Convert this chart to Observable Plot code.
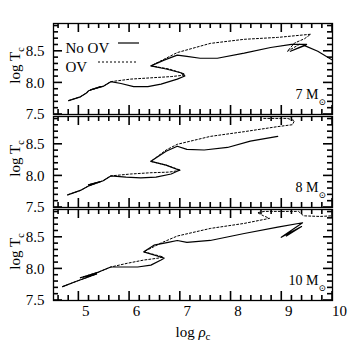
<!DOCTYPE html>
<html><head><meta charset="utf-8">
<script src="https://cdn.jsdelivr.net/npm/d3@7"></script>
<script src="https://cdn.jsdelivr.net/npm/@observablehq/plot@0.6"></script>
<style>body{margin:0;background:#fff} #chart{width:352px;height:352px}</style>
</head><body><div id="chart"></div>
<script>
// ---------- data (log rho_c , log T_c) ----------
const panelKeys = ["7", "8", "10"];
const massLabels = ["7 M", "8 M", "10 M"];
const legendNames = ["No OV", "OV"];
const xTicks = [5, 6, 7, 8, 9, 10];
const yTicks = [7.5, 8.0, 8.5];

// 7 Msun
const rho7NoOV = [4.80,5.03,5.15,5.19,5.43,5.23,5.49,5.63,5.83,6.08,6.36,6.62,6.94,7.09,7.01,6.72,6.42,6.68,6.94,7.13,7.39,7.73,8.26,8.78,9.19,9.49,9.17,9.45,9.71,10.04];
const T7NoOV   = [7.72,7.78,7.84,7.875,7.94,7.89,7.95,8.02,7.99,7.94,7.94,7.98,8.06,8.11,8.16,8.22,8.27,8.36,8.44,8.42,8.39,8.39,8.47,8.56,8.61,8.61,8.50,8.59,8.50,8.34];
const rho7OV   = [4.80,5.03,5.15,5.19,5.43,5.23,5.49,5.63,6.02,6.42,6.82,7.05,7.09,6.78,6.42,6.94,7.59,8.26,8.92,9.57,9.45,9.25,9.11,9.37];
const T7OV     = [7.72,7.78,7.84,7.875,7.94,7.89,7.95,8.02,8.06,8.08,8.10,8.12,8.14,8.22,8.27,8.48,8.625,8.69,8.72,8.77,8.70,8.63,8.50,8.62];
// 8 Msun
const rho8NoOV = [4.78,5.03,5.19,5.43,5.19,5.47,5.63,5.93,6.22,6.52,6.82,6.98,6.72,6.42,6.72,6.94,7.13,7.47,7.93,8.38,8.92];
const T8NoOV   = [7.70,7.77,7.84,7.91,7.86,7.92,8.00,7.98,7.97,7.98,8.03,8.09,8.17,8.23,8.39,8.47,8.42,8.41,8.45,8.55,8.625];
const rho8OV   = [4.78,5.03,5.19,5.43,5.19,5.47,5.63,6.02,6.42,6.78,7.01,6.72,6.42,6.72,6.94,7.59,8.26,8.92,9.21,9.25,9.11,8.64];
const T8OV     = [7.70,7.77,7.84,7.91,7.86,7.92,8.00,8.03,8.05,8.06,8.09,8.17,8.23,8.41,8.50,8.625,8.70,8.78,8.81,8.875,8.91,8.91];
// 10 Msun
const rho10NoOV = [4.68,4.94,5.35,5.03,5.39,5.63,5.89,6.16,6.42,6.62,6.68,6.56,6.28,6.48,6.76,6.94,7.13,7.59,8.26,8.92,9.41,8.99,9.39,9.09];
const T10NoOV   = [7.72,7.80,7.92,7.86,7.95,8.03,8.03,8.03,8.06,8.14,8.17,8.20,8.27,8.375,8.42,8.45,8.42,8.45,8.56,8.66,8.73,8.50,8.67,8.52];
const rho10OV   = [4.68,4.94,5.35,5.03,5.39,5.63,5.96,6.28,6.56,6.66,6.28,6.62,6.94,7.59,8.26,8.76,8.64,8.52,8.66,8.99,9.33,9.43,9.75,10.0];
const T10OV     = [7.72,7.80,7.92,7.86,7.95,8.03,8.09,8.14,8.17,8.19,8.27,8.41,8.52,8.64,8.72,8.80,8.84,8.89,8.91,8.91,8.91,8.84,8.83,8.84];

// ---------- build table ----------
const rows = [];
function addCurve(panel, model, rho, T) { rho.forEach((r, i) => rows.push({panel, model, rho: r, T: T[i]})); }
addCurve("7", "No OV", rho7NoOV, T7NoOV);   addCurve("7", "OV", rho7OV, T7OV);
addCurve("8", "No OV", rho8NoOV, T8NoOV);   addCurve("8", "OV", rho8OV, T8OV);
addCurve("10", "No OV", rho10NoOV, T10NoOV); addCurve("10", "OV", rho10OV, T10OV);
const massRows = panelKeys.map((p, i) => ({panel: p, label: massLabels[i]}));

const minorX = d3.range(46, 100, 2).map(v => v / 10).filter(v => !xTicks.includes(v));
const minorY = d3.range(76, 90, 1).map(v => v / 10).filter(v => !yTicks.includes(v));

const fontFamily = "'Liberation Serif', 'DejaVu Serif', serif";
const W = 352, H = 352;
const M = {top: 22, right: 20, bottom: 51, left: 53};
const xDomain = [4.5, 10];
const yDomain = [7.5, 8.94];

const chart = Plot.plot({
  width: W, height: H,
  marginTop: M.top, marginRight: M.right, marginBottom: M.bottom, marginLeft: M.left,
  style: {fontFamily, fontSize: "15px", color: "black", background: "white"},
  x: {domain: xDomain},
  y: {domain: yDomain},
  fy: {domain: panelKeys, paddingInner: 0.026, paddingOuter: 0, axis: null, label: null},
  marks: [
    Plot.line(rows.filter(d => d.model === "OV"), {x: "rho", y: "T", fy: "panel", stroke: "black", strokeWidth: 1, strokeDasharray: "2,2", clip: true}),
    Plot.line(rows.filter(d => d.model === "No OV"), {x: "rho", y: "T", fy: "panel", stroke: "black", strokeWidth: 1.2, clip: true}),
    Plot.frame({strokeWidth: 1.3}),
    Plot.axisX({anchor: "bottom", ticks: xTicks, tickSize: 0, tickPadding: 5, dx: 7, tickFormat: d => String(d), label: null, fontSize: 15}),
    Plot.axisY({anchor: "left", ticks: yTicks, tickSize: 0, tickPadding: 9, tickFormat: d => d.toFixed(1), label: null, facetAnchor: null, fontSize: 15}),
    Plot.text(massRows, {fy: "panel", text: "label", frameAnchor: "bottom-right", textAnchor: "end", dx: -14, dy: -16, fontSize: 14}),
    Plot.text(massRows, {fy: "panel", text: () => "\u2299", frameAnchor: "bottom-right", textAnchor: "start", dx: -14, dy: -10, fontSize: 9}),
    Plot.text(massRows.filter(d => d.panel === "7"), {fy: "panel", text: () => legendNames[0], frameAnchor: "top-left", textAnchor: "start", dx: 12, dy: 19, fontSize: 15}),
    Plot.text(massRows.filter(d => d.panel === "7"), {fy: "panel", text: () => legendNames[1], frameAnchor: "top-left", textAnchor: "start", dx: 12, dy: 38, fontSize: 15})
  ]
});
document.getElementById("chart").appendChild(chart);

// ---------- decorations: inward ticks, legend samples, axis titles ----------
const svg = d3.select(chart);
const fy = chart.scale("fy");
const bw = fy.bandwidth;
const x0 = M.left, x1 = W - M.right;
const xPix = v => x0 + (v - xDomain[0]) / (xDomain[1] - xDomain[0]) * (x1 - x0);
const yPix = (top, v) => top + (yDomain[1] - v) / (yDomain[1] - yDomain[0]) * bw;
const tg = svg.append("g");
const tick = (a, b, c, d) => tg.append("line").attr("x1", a).attr("y1", b).attr("x2", c).attr("y2", d)
  .attr("stroke", "black").attr("stroke-width", 1.6);
const major = 9, minor = 5;
panelKeys.forEach(k => {
  const top = fy.apply(k), bot = top + bw;
  [[xTicks, major], [minorX, minor]].forEach(([ts, len]) => ts.forEach(v => {
    const px = xPix(v);
    tick(px, bot, px, bot - len);
    tick(px, top, px, top + len);
  }));
  [[yTicks, major], [minorY, minor]].forEach(([ts, len]) => ts.forEach(v => {
    const py = yPix(top, v);
    tick(x0, py, x0 + len, py);
    tick(x1, py, x1 - len, py);
  }));
});

const top7 = fy.apply("7");
svg.append("line").attr("x1", M.left + 65).attr("x2", M.left + 86).attr("y1", top7 + 20).attr("y2", top7 + 20)
  .attr("stroke", "black").attr("stroke-width", 1.2);
svg.append("line").attr("x1", M.left + 45).attr("x2", M.left + 85).attr("y1", top7 + 39).attr("y2", top7 + 39)
  .attr("stroke", "black").attr("stroke-width", 1).attr("stroke-dasharray", "2,2");

panelKeys.forEach(k => {
  const cy = fy.apply(k) + bw / 2 - 3;
  const t = svg.append("text").attr("transform", `translate(20,${cy}) rotate(-90)`)
    .attr("text-anchor", "middle").attr("font-family", fontFamily).attr("font-size", 15).attr("fill", "black");
  t.append("tspan").text("log T");
  t.append("tspan").attr("dy", 4).attr("font-size", 10).text("c");
});
const xt = svg.append("text").attr("x", 193).attr("y", 337).attr("text-anchor", "middle")
  .attr("font-family", fontFamily).attr("font-size", 15).attr("fill", "black");
xt.append("tspan").text("log ");
xt.append("tspan").attr("font-style", "italic").text("\u03c1");
xt.append("tspan").attr("dy", 3).attr("font-size", 11).text("c");
</script></body></html>
